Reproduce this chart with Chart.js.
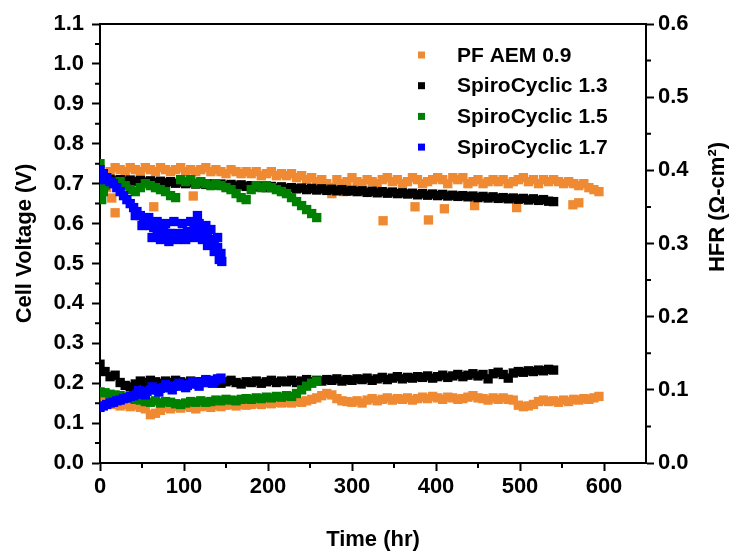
<!DOCTYPE html>
<html>
<head>
<meta charset="utf-8">
<script src="https://cdn.jsdelivr.net/npm/chart.js@4.4.1/dist/chart.umd.min.js"></script>
<style>
  html, body { margin: 0; padding: 0; background: #fff; }
  #wrap { width: 733px; height: 552px; }
</style>
</head>
<body>
<div id="wrap"><canvas id="durability"></canvas></div>
<script>
// Series names (legend)
const seriesNames = ['PF AEM 0.9', 'SpiroCyclic 1.3', 'SpiroCyclic 1.5', 'SpiroCyclic 1.7'];

// Tick labels
const timeTicks = [0, 100, 200, 300, 400, 500, 600];
const voltTicks = [0, 0.1, 0.2, 0.3, 0.4, 0.5, 0.6, 0.7, 0.8, 0.9, 1.0, 1.1];
const hfrTicks = [0, 0.1, 0.2, 0.3, 0.4, 0.5, 0.6];

// PF AEM 0.9 (hr, V, ohm-cm2)
const orangeTime = [0, 6, 12, 18, 24, 30, 36, 42, 48, 54,
  60, 66, 72, 78, 84, 90, 96, 102, 108, 114,
  120, 126, 132, 138, 144, 150, 156, 162, 168, 174,
  180, 186, 192, 198, 204, 210, 216, 222, 228, 234,
  240, 246, 252, 258, 264, 270, 276, 282, 288, 294,
  300, 306, 312, 318, 324, 330, 336, 342, 348, 354,
  360, 366, 372, 378, 384, 390, 396, 402, 408, 414,
  420, 426, 432, 438, 444, 450, 456, 462, 468, 474,
  480, 486, 492, 498, 504, 510, 516, 522, 528, 534,
  540, 546, 552, 558, 564, 570, 576, 582, 588, 594];
const orangeVolt = [0.735, 0.725, 0.73, 0.74, 0.735, 0.73, 0.74, 0.735, 0.73, 0.74,
  0.735, 0.73, 0.74, 0.735, 0.73, 0.735, 0.74, 0.73, 0.735, 0.73,
  0.735, 0.74, 0.73, 0.735, 0.73, 0.725, 0.735, 0.73, 0.725, 0.73,
  0.725, 0.73, 0.72, 0.725, 0.73, 0.72, 0.725, 0.72, 0.725, 0.715,
  0.72, 0.71, 0.715, 0.705, 0.71, 0.70, 0.69, 0.71, 0.70, 0.705,
  0.715, 0.705, 0.70, 0.71, 0.705, 0.70, 0.71, 0.715, 0.705, 0.71,
  0.70, 0.705, 0.715, 0.71, 0.70, 0.705, 0.71, 0.715, 0.71, 0.70,
  0.715, 0.71, 0.715, 0.70, 0.705, 0.71, 0.70, 0.705, 0.71, 0.705,
  0.71, 0.70, 0.705, 0.71, 0.715, 0.705, 0.71, 0.70, 0.71, 0.705,
  0.71, 0.705, 0.70, 0.705, 0.70, 0.695, 0.70, 0.69, 0.685, 0.68];
const orangeHfr = [0.097, 0.090, 0.084, 0.080, 0.078, 0.080, 0.077, 0.079, 0.076, 0.074,
  0.066, 0.068, 0.072, 0.076, 0.074, 0.077, 0.075, 0.078, 0.076, 0.074,
  0.077, 0.078, 0.076, 0.079, 0.077, 0.079, 0.080, 0.078, 0.080, 0.079,
  0.080, 0.082, 0.080, 0.082, 0.081, 0.083, 0.082, 0.083, 0.082, 0.084,
  0.083, 0.085, 0.087, 0.089, 0.092, 0.095, 0.093, 0.088, 0.085, 0.084,
  0.083, 0.085, 0.082, 0.086, 0.088, 0.085, 0.087, 0.089, 0.086, 0.088,
  0.087, 0.089, 0.086, 0.088, 0.090, 0.088, 0.091, 0.089, 0.087, 0.090,
  0.089, 0.087, 0.088, 0.090, 0.092, 0.089, 0.088, 0.086, 0.089, 0.087,
  0.089, 0.087, 0.086, 0.079, 0.077, 0.078, 0.080, 0.084, 0.086, 0.084,
  0.085, 0.083, 0.086, 0.084, 0.087, 0.086, 0.088, 0.087, 0.089, 0.091];
const orangeOddTime = [8, 14, 18, 64, 111, 276, 290, 337, 375, 391, 410, 446, 496, 563, 570];
const orangeOddVolt = [0.69, 0.664, 0.627, 0.642, 0.669, 0.675, 0.68, 0.607, 0.642, 0.609, 0.637, 0.645, 0.64, 0.647, 0.652];

// SpiroCyclic 1.3
const blackTime = [0, 6, 12, 18, 24, 30, 36, 42, 48, 54,
  60, 66, 72, 78, 84, 90, 96, 102, 108, 114,
  120, 126, 132, 138, 144, 150, 156, 162, 168, 174,
  180, 186, 192, 198, 204, 210, 216, 222, 228, 234,
  240, 246, 252, 258, 264, 270, 276, 282, 288, 294,
  300, 306, 312, 318, 324, 330, 336, 342, 348, 354,
  360, 366, 372, 378, 384, 390, 396, 402, 408, 414,
  420, 426, 432, 438, 444, 450, 456, 462, 468, 474,
  480, 486, 492, 498, 504, 510, 516, 522, 528, 534,
  540];
const blackVolt = [0.712, 0.709, 0.711, 0.707, 0.710, 0.706, 0.709, 0.705, 0.708, 0.704,
  0.707, 0.703, 0.706, 0.702, 0.705, 0.701, 0.704, 0.700, 0.703, 0.699,
  0.701, 0.698, 0.700, 0.697, 0.699, 0.695, 0.698, 0.694, 0.697, 0.693,
  0.695, 0.692, 0.694, 0.690, 0.693, 0.689, 0.692, 0.688, 0.690, 0.687,
  0.689, 0.685, 0.688, 0.684, 0.687, 0.683, 0.686, 0.682, 0.685, 0.681,
  0.683, 0.680, 0.682, 0.678, 0.681, 0.677, 0.680, 0.676, 0.679, 0.675,
  0.677, 0.674, 0.676, 0.672, 0.675, 0.671, 0.674, 0.670, 0.673, 0.669,
  0.671, 0.668, 0.670, 0.667, 0.669, 0.665, 0.668, 0.664, 0.667, 0.663,
  0.665, 0.662, 0.664, 0.661, 0.663, 0.659, 0.662, 0.658, 0.660, 0.656,
  0.655];
const blackHfr = [0.135, 0.125, 0.118, 0.120, 0.110, 0.106, 0.104, 0.108, 0.112, 0.110,
  0.113, 0.111, 0.109, 0.112, 0.110, 0.113, 0.111, 0.109, 0.112, 0.110,
  0.111, 0.113, 0.110, 0.112, 0.109, 0.111, 0.113, 0.110, 0.108, 0.111,
  0.110, 0.112, 0.109, 0.111, 0.113, 0.110, 0.112, 0.111, 0.113, 0.110,
  0.112, 0.114, 0.111, 0.113, 0.112, 0.114, 0.113, 0.115, 0.112, 0.114,
  0.113, 0.115, 0.114, 0.116, 0.113, 0.115, 0.117, 0.114, 0.116, 0.118,
  0.115, 0.117, 0.116, 0.118, 0.117, 0.119, 0.116, 0.118, 0.120, 0.117,
  0.119, 0.121, 0.118, 0.120, 0.122, 0.119, 0.121, 0.115, 0.122, 0.124,
  0.121, 0.116, 0.123, 0.125, 0.124, 0.126, 0.125, 0.127, 0.126, 0.128,
  0.127];

// SpiroCyclic 1.5
const greenTime = [0, 6, 12, 18, 24, 30, 36, 42, 48, 54,
  60, 66, 72, 78, 84, 90, 96, 102, 108, 114,
  120, 126, 132, 138, 144, 150, 156, 162, 168, 174,
  180, 186, 192, 198, 204, 210, 216, 222, 228, 234,
  240, 246, 252, 258];
const greenVolt = [0.700, 0.695, 0.705, 0.700, 0.705, 0.695, 0.685, 0.680, 0.690, 0.700,
  0.695, 0.690, 0.685, 0.680, 0.670, 0.665, 0.710, 0.705, 0.710, 0.700,
  0.705, 0.700, 0.695, 0.700, 0.695, 0.690, 0.685, 0.675, 0.665, 0.660,
  0.685, 0.695, 0.690, 0.695, 0.690, 0.685, 0.680, 0.675, 0.665, 0.655,
  0.645, 0.635, 0.625, 0.615];
const greenHfr = [0.097, 0.096, 0.094, 0.093, 0.092, 0.090, 0.089, 0.087, 0.086, 0.084,
  0.083, 0.085, 0.082, 0.084, 0.083, 0.081, 0.080, 0.082, 0.084, 0.083,
  0.085, 0.083, 0.084, 0.086, 0.085, 0.087, 0.086, 0.085, 0.087, 0.088,
  0.087, 0.089, 0.088, 0.090, 0.089, 0.091, 0.090, 0.092, 0.091, 0.095,
  0.100, 0.105, 0.109, 0.112];
const greenOddTime = [0, 0, 2, 4];
const greenOddVolt = [0.75, 0.67, 0.66, 0.68];

// SpiroCyclic 1.7
const blueTime = [0, 4, 8, 12, 16, 20, 24, 28, 32, 36,
  40, 44, 48, 52, 56, 60, 64, 68, 72, 76,
  80, 84, 88, 92, 96, 100, 104, 108, 112, 116,
  120, 124, 128, 132, 136, 140, 144];
const blueVolt = [0.735, 0.725, 0.715, 0.705, 0.700, 0.690, 0.680, 0.670, 0.660, 0.650,
  0.640, 0.630, 0.620, 0.610, 0.600, 0.595, 0.590, 0.585, 0.580, 0.580,
  0.575, 0.575, 0.570, 0.575, 0.570, 0.575, 0.580, 0.575, 0.585, 0.590,
  0.580, 0.575, 0.570, 0.560, 0.550, 0.540, 0.525];
const blueHfr = [0.076, 0.078, 0.080, 0.082, 0.083, 0.085, 0.086, 0.088, 0.089, 0.091,
  0.092, 0.094, 0.096, 0.097, 0.098, 0.100, 0.101, 0.100, 0.102, 0.103,
  0.104, 0.103, 0.105, 0.106, 0.105, 0.107, 0.106, 0.108, 0.109, 0.108,
  0.110, 0.111, 0.110, 0.112, 0.113, 0.115, 0.116];
const blueOddTime = [2, 42, 50, 58, 62, 68, 72, 78, 82, 88,
  92, 98, 102, 108, 112, 116, 118, 122, 126, 128,
  132, 136, 140, 142, 145];
const blueOddVolt = [0.71, 0.62, 0.595, 0.615, 0.565, 0.605, 0.56, 0.60, 0.555, 0.605,
  0.56, 0.60, 0.56, 0.605, 0.565, 0.62, 0.60, 0.56, 0.595, 0.545,
  0.585, 0.53, 0.565, 0.51, 0.505];
const blueOddHfrTime = [46, 54, 62, 70, 78, 86, 94, 102, 110, 118, 126, 134];
const blueOddHfr = [0.099, 0.093, 0.104, 0.097, 0.107, 0.100, 0.109, 0.103, 0.111, 0.105, 0.114, 0.109];

const colors = ['#EF8A33', '#000000', '#008000', '#0000FF'];

function pts(times, values) {
  return times.map((t, i) => ({ x: t, y: values[i] }));
}

function series(i, data, axis) {
  return {
    label: seriesNames[i],
    data: data,
    yAxisID: axis,
    order: 4 - i,           // blue drawn on top, orange at the bottom
    backgroundColor: colors[i],
    borderColor: colors[i],
    borderWidth: 0,
    pointStyle: 'rect',
    pointRadius: 6.6,
    pointHoverRadius: 6.6,
    showLine: false
  };
}

const datasets = [
  series(0, pts(orangeTime, orangeVolt).concat(pts(orangeOddTime, orangeOddVolt)), 'yV'),
  series(1, pts(blackTime, blackVolt), 'yV'),
  series(2, pts(greenTime, greenVolt).concat(pts(greenOddTime, greenOddVolt)), 'yV'),
  series(3, pts(blueTime, blueVolt).concat(pts(blueOddTime, blueOddVolt)), 'yV'),
  series(0, pts(orangeTime, orangeHfr), 'yR'),
  series(1, pts(blackTime, blackHfr), 'yR'),
  series(2, pts(greenTime, greenHfr), 'yR'),
  series(3, pts(blueTime, blueHfr).concat(pts(blueOddHfrTime, blueOddHfr)), 'yR')
];

const tickFont = { family: 'Liberation Sans, Arial, sans-serif', size: 22, weight: 'bold' };
const titleFont = { family: 'Liberation Sans, Arial, sans-serif', size: 22, weight: 'bold', lineHeight: 1 };

// frame, minor ticks, legend and right axis title
const extras = {
  id: 'extras',
  afterDraw(chart) {
    const c = chart.ctx;
    const a = chart.chartArea;
    const sx = chart.scales.x, sv = chart.scales.yV, sr = chart.scales.yR;
    c.save();
    c.strokeStyle = '#000';
    c.lineWidth = 2;
    c.beginPath();
    c.moveTo(a.left, a.top);
    c.lineTo(a.right, a.top);
    c.stroke();

    c.beginPath();
    for (let v = 50; v < 650; v += 100) {
      const px = sx.getPixelForValue(v);
      c.moveTo(px, a.bottom);
      c.lineTo(px, a.bottom + 5);
    }
    for (let k = 0; k < 11; k++) {
      const py = sv.getPixelForValue(0.05 + k * 0.1);
      c.moveTo(a.left, py);
      c.lineTo(a.left - 5, py);
    }
    for (let k = 0; k < 6; k++) {
      const py = sr.getPixelForValue(0.05 + k * 0.1);
      c.moveTo(a.right, py);
      c.lineTo(a.right + 5, py);
    }
    c.stroke();

    // legend
    c.font = 'bold 21px Liberation Sans, Arial, sans-serif';
    c.textBaseline = 'middle';
    for (let i = 0; i < 4; i++) {
      const y = 55 + i * 30.7;
      c.fillStyle = colors[i];
      c.fillRect(418, y - 3.5, 7, 7);
      c.fillStyle = '#000';
      c.fillText(seriesNames[i], 457, y + 1);
    }

    // right title reads bottom to top
    c.translate(718, 207);
    c.rotate(-Math.PI / 2);
    c.textAlign = 'center';
    c.font = 'bold 22px Liberation Sans, Arial, sans-serif';
    c.fillText('HFR (\u03A9-cm\u00B2)', 0, 0);
    c.restore();
  }
};

new Chart(document.getElementById('durability'), {
  type: 'scatter',
  data: { datasets: datasets },
  options: {
    responsive: true,
    maintainAspectRatio: false,
    animation: false,
    layout: { padding: { top: 24, left: 0, right: 0, bottom: 0 } },
    plugins: {
      legend: { display: false },
      tooltip: { enabled: false }
    },
    scales: {
      x: {
        type: 'linear',
        min: 0,
        max: 650,
        afterFit: s => { s.height = 89; },
        afterBuildTicks: s => { s.ticks = timeTicks.map(v => ({ value: v })); },
        grid: { drawOnChartArea: false, tickLength: 8, tickColor: '#000', tickWidth: 2 },
        border: { color: '#000', width: 2 },
        ticks: { color: '#000', font: tickFont, padding: 3, maxRotation: 0 },
        title: { display: true, text: 'Time (hr)', color: '#000', font: titleFont, padding: { top: 0, bottom: 1 } }
      },
      yV: {
        type: 'linear',
        position: 'left',
        min: 0,
        max: 1.1,
        afterFit: s => { s.width = 100; },
        afterBuildTicks: s => { s.ticks = voltTicks.map(v => ({ value: v })); },
        grid: { drawOnChartArea: false, tickLength: 8, tickColor: '#000', tickWidth: 2 },
        border: { color: '#000', width: 2 },
        ticks: { color: '#000', font: tickFont, padding: 8, callback: v => v.toFixed(1) },
        title: { display: true, text: 'Cell Voltage (V)', color: '#000', font: titleFont, padding: { top: 14, bottom: 0 } }
      },
      yR: {
        type: 'linear',
        position: 'right',
        min: 0,
        max: 0.6,
        afterFit: s => { s.width = 87; },
        afterBuildTicks: s => { s.ticks = hfrTicks.map(v => ({ value: v })); },
        grid: { drawOnChartArea: false, tickLength: 8, tickColor: '#000', tickWidth: 2 },
        border: { color: '#000', width: 2 },
        ticks: { color: '#000', font: tickFont, padding: 4, callback: v => v.toFixed(1) }
      }
    }
  },
  plugins: [extras]
});
</script>
</body>
</html>
